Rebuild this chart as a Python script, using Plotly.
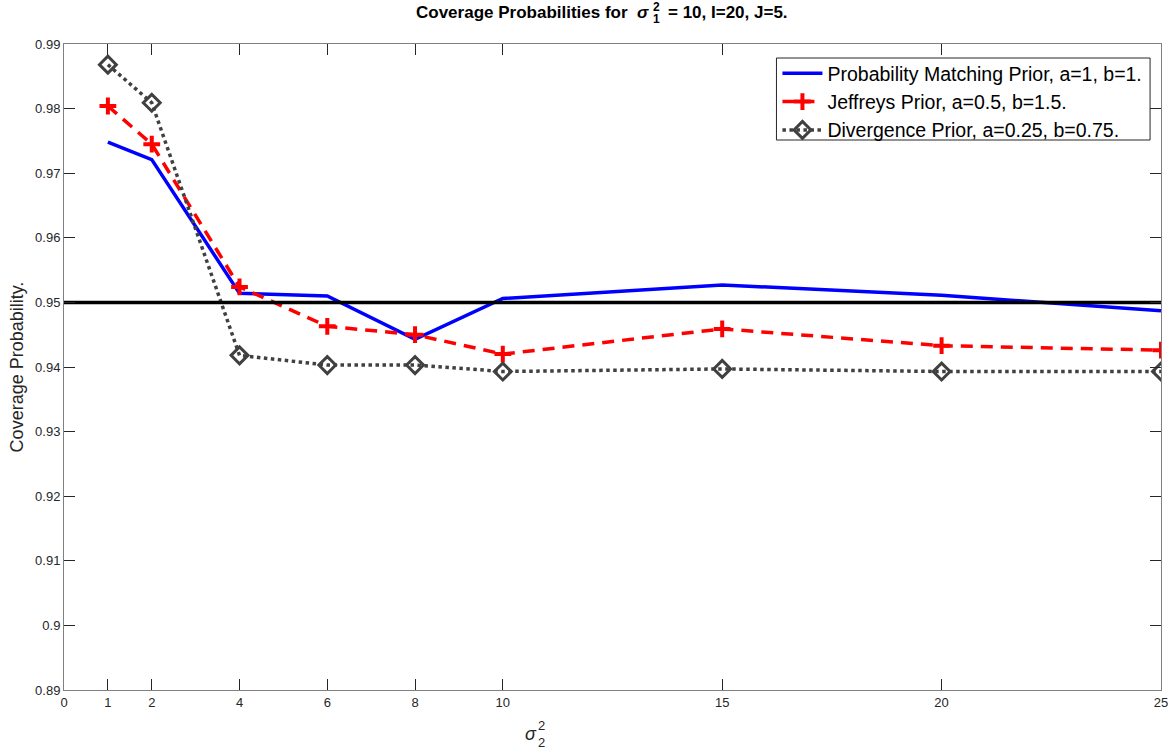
import plotly.graph_objects as go

x_vals = [1, 2, 4, 6, 8, 10, 15, 20, 25]
pm_prior = [0.9748, 0.9721, 0.9514, 0.9510, 0.9443, 0.9506, 0.9527, 0.9511, 0.9487]
jeffreys = [0.9804, 0.9745, 0.9524, 0.9463, 0.9450, 0.9420, 0.9459, 0.9433, 0.9426]
divergence = [0.9868, 0.9809, 0.9418, 0.9403, 0.9403, 0.9393, 0.9397, 0.9393, 0.9393]
ref_x = [0, 25]
ref_y = [0.95, 0.95]
x_ticks = [0, 1, 2, 4, 6, 8, 10, 15, 20, 25]
y_ticks = [0.89, 0.9, 0.91, 0.92, 0.93, 0.94, 0.95, 0.96, 0.97, 0.98, 0.99]

FONT = "Liberation Sans, Arial, sans-serif"
L, R, T, B = 64, 7, 44, 63
W, H = 1175, 753
PW, PH = W - L - R, H - T - B


def px(xp):
    return (xp - L) / PW


def py(yp):
    return (H - B - yp) / PH


fig = go.Figure()
fig.add_trace(go.Scatter(x=x_vals, y=pm_prior, mode="lines",
                         line=dict(color="#0000ff", width=3.5),
                         name="Probability Matching Prior, a=1, b=1."))
fig.add_trace(go.Scatter(x=x_vals, y=jeffreys, mode="lines+markers",
                         line=dict(color="#ff0000", width=3.5, dash="12px,8px"),
                         marker=dict(symbol="cross-thin", size=12, line=dict(color="#ff0000", width=4)),
                         name="Jeffreys Prior, a=0.5, b=1.5."))
fig.add_trace(go.Scatter(x=x_vals, y=divergence, mode="lines+markers",
                         line=dict(color="#404040", width=3.5, dash="dot"),
                         marker=dict(symbol="diamond-open", size=13, color="#404040", line=dict(color="#404040", width=3)),
                         name="Divergence Prior, a=0.25, b=0.75."))
fig.add_trace(go.Scatter(x=ref_x, y=ref_y, mode="lines",
                         line=dict(color="#000000", width=3.5), showlegend=False))

axis_common = dict(showgrid=False, zeroline=False, showline=True, linecolor="#808080", linewidth=1,
                   mirror="allticks", ticks="inside", ticklen=11, tickwidth=1, tickcolor="#262626",
                   tickfont=dict(family=FONT, size=13, color="#262626"), ticklabeloverflow="allow")
fig.update_xaxes(range=[0, 25], tickvals=x_ticks, ticktext=[str(v) for v in x_ticks], **axis_common)
fig.update_yaxes(range=[0.89, 0.99], tickvals=y_ticks, ticktext=[f"{v:g}" for v in y_ticks],
                 title=dict(text="Coverage Probability.", font=dict(family=FONT, size=18, color="#262626"), standoff=6),
                 **axis_common)

ann = []


def add_text(text, xp, yp, size, xanchor="center", color="#000000"):
    ann.append(dict(text=text, x=px(xp), y=py(yp), xref="paper", yref="paper",
                    xanchor=xanchor, yanchor="middle", showarrow=False,
                    font=dict(family=FONT, size=size, color=color)))


# title with stacked super/subscript
add_text("<b>Coverage Probabilities for  <i>σ</i></b>", 655, 12, 17, "right")
add_text("<b>2</b>", 655, 7, 12, "left")
add_text("<b>1</b>", 655, 19, 12, "left")
add_text("<b>= 10, I=20, J=5.</b>", 670, 12, 17, "left")
# x-axis title sigma_2^2
add_text("<i>σ</i>", 534, 734, 18, "center", "#262626")
add_text("2", 539, 725, 13, "left", "#262626")
add_text("2", 539, 742, 13, "left", "#262626")

# legend frame
shapes = [dict(type="rect", xref="paper", yref="paper", x0=px(781), x1=px(1157), y0=py(140), y1=py(58),
               fillcolor="white", line=dict(color="#262626", width=1), layer="above")]

fig.update_layout(
    width=W, height=H,
    margin=dict(l=L, r=R, t=T, b=B),
    plot_bgcolor="white", paper_bgcolor="white",
    annotations=ann, shapes=shapes,
    legend=dict(x=px(782), xanchor="left", y=py(54), yanchor="top",
                bgcolor="rgba(0,0,0,0)", borderwidth=0,
                font=dict(family=FONT, size=19.5, color="#000000"),
                tracegroupgap=0, itemwidth=40),
)
fig.write_html("out.html",
               post_script="document.body.style.margin='0';document.body.style.overflow='hidden';")
